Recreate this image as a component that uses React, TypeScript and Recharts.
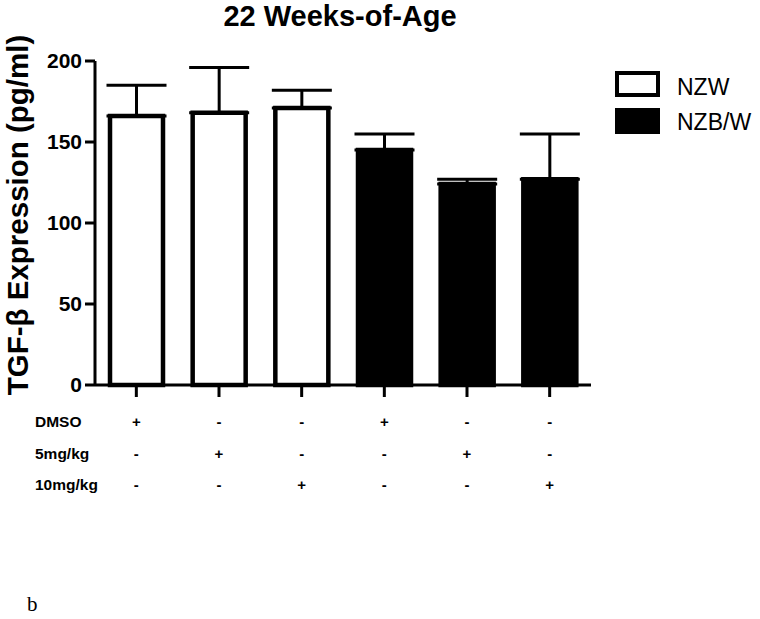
import React from "react";
import { BarChart, Bar, XAxis, YAxis, Cell, ErrorBar } from "recharts";

const groups = ["NZW", "NZW", "NZW", "NZB/W", "NZB/W", "NZB/W"];
const means = [166, 168, 171, 145, 124, 127];
const errors = [19, 28, 11, 10, 3, 28];
const dmso = ["+", "-", "-", "+", "-", "-"];
const dose5 = ["-", "+", "-", "-", "+", "-"];
const dose10 = ["-", "-", "+", "-", "-", "+"];
const rowLabels = ["DMSO", "5mg/kg", "10mg/kg"];
const yTicks = [0, 50, 100, 150, 200];
const legendNames = ["NZW", "NZB/W"];

const groupFill: Record<string, string> = { NZW: "#ffffff", "NZB/W": "#000000" };
const font = "'Liberation Sans', Arial, Helvetica, sans-serif";
const treatmentRows = [dmso, dose5, dose10];
const rowOffsets = [28, 60, 91];

const data = means.map((m, i) => ({
  id: i,
  group: groups[i],
  mean: m,
  err: [0, errors[i]],
}));

const YTick = (props: any) => {
  const { x, y, payload } = props;
  return (
    <text x={x} y={y} dy={7} textAnchor="end" fontSize={21} fontWeight="bold" fontFamily={font} fill="#000">
      {payload.value}
    </text>
  );
};

const TreatmentTick = (props: any) => {
  const { x, y, index } = props;
  return (
    <g>
      {treatmentRows.map((row, j) => (
        <text key={j} x={x} y={y + rowOffsets[j]} textAnchor="middle" fontSize={15} fontWeight="bold" fontFamily={font} fill="#000">
          {row[index]}
        </text>
      ))}
    </g>
  );
};

export default function App() {
  return (
    <div style={{ position: "absolute", left: 0, top: 0, width: 760, height: 619, background: "#fff" }}>
      <BarChart
        width={760}
        height={619}
        data={data}
        margin={{ top: 61, right: 169, left: 0, bottom: 124 }}
        barSize={53}
      >
        <XAxis
          dataKey="id"
          height={110}
          interval={0}
          tickSize={12}
          tickMargin={2}
          axisLine={{ stroke: "#000", strokeWidth: 3 }}
          tickLine={{ stroke: "#000", strokeWidth: 3 }}
          tick={TreatmentTick}
        />
        <YAxis
          width={95}
          domain={[0, 200]}
          ticks={yTicks}
          interval={0}
          tickSize={10}
          tickMargin={3}
          axisLine={{ stroke: "#000", strokeWidth: 3 }}
          tickLine={{ stroke: "#000", strokeWidth: 3 }}
          tick={YTick}
        />
        <Bar dataKey="mean" stroke="#000" strokeWidth={4.5} isAnimationActive={false}>
          {data.map((d) => (
            <Cell key={d.id} fill={groupFill[d.group]} />
          ))}
          <ErrorBar dataKey="err" direction="y" width={30} stroke="#000" strokeWidth={3} isAnimationActive={false} />
        </Bar>
      </BarChart>
      <svg
        width={760}
        height={619}
        style={{ position: "absolute", left: 0, top: 0, pointerEvents: "none" }}
      >
        <text x={340} y={26} textAnchor="middle" fontSize={29} fontWeight="bold" fontFamily={font} fill="#000">
          22 Weeks-of-Age
        </text>
        <text
          x={0}
          y={0}
          transform="translate(28,215) rotate(-90)"
          textAnchor="middle"
          fontSize={29.5}
          fontWeight="bold"
          fontFamily={font}
          fill="#000"
        >
          TGF-β Expression (pg/ml)
        </text>
        {legendNames.map((name, i) => (
          <g key={name}>
            <rect
              x={617}
              y={73 + i * 37}
              width={41}
              height={22}
              fill={groupFill[name]}
              stroke="#000"
              strokeWidth={4}
            />
            <text x={677} y={95 + i * 35} fontSize={23} fontFamily={font} fill="#000">
              {name}
            </text>
          </g>
        ))}
        {rowLabels.map((label, j) => (
          <text key={label} x={35} y={427 + [0, 32, 63][j]} fontSize={15.5} fontWeight="bold" fontFamily={font} fill="#000">
            {label}
          </text>
        ))}
        <text x={27} y={611} fontSize={21} fontFamily="'Liberation Serif', 'Times New Roman', serif" fill="#000">
          b
        </text>
      </svg>
    </div>
  );
}
